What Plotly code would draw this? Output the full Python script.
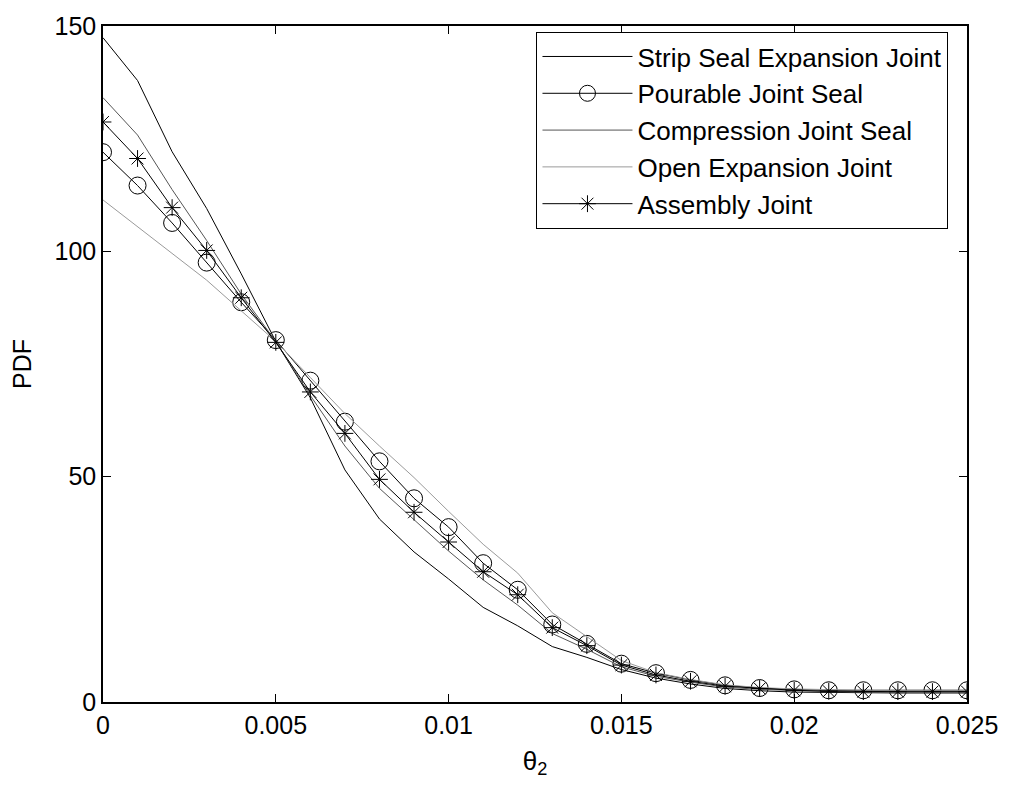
import plotly.graph_objects as go

# Rotation values (theta_2) sampled every 0.001
theta2 = [round(i * 0.001, 3) for i in range(26)]

strip_seal = [147.4, 137.9, 122.1, 109.5, 95.0, 80.0, 67.5, 51.5, 40.6, 33.3,
              27.3, 21.0, 16.9, 12.3, 9.9, 7.2, 5.3, 4.0, 3.0, 2.5,
              2.2, 2.1, 2.0, 2.0, 2.0, 2.0]
pourable = [122.0, 114.6, 106.3, 97.5, 88.7, 80.3, 71.3, 62.2, 53.4, 45.2,
            38.8, 30.8, 24.9, 17.2, 12.9, 8.5, 6.4, 4.9, 3.7, 3.1,
            2.8, 2.6, 2.6, 2.6, 2.6, 2.6]
compression = [134.1, 125.8, 113.7, 102.4, 90.5, 80.0, 68.0, 56.8, 47.4, 40.5,
               33.5, 27.1, 21.5, 15.2, 11.7, 7.8, 5.7, 4.4, 3.3, 2.8,
               2.5, 2.3, 2.2, 2.2, 2.2, 2.2]
open_joint = [111.4, 105.5, 99.5, 93.6, 86.8, 80.0, 72.0, 64.0, 56.8, 49.8,
              42.3, 35.0, 28.6, 19.8, 14.5, 9.2, 6.5, 5.0, 3.8, 3.2,
              2.9, 2.7, 2.6, 2.6, 2.6, 2.6]
assembly = [128.7, 120.6, 109.7, 100.2, 89.7, 79.8, 68.8, 59.6, 49.4, 42.1,
            35.5, 28.9, 23.8, 16.5, 12.5, 8.2, 6.0, 4.6, 3.5, 3.0,
            2.6, 2.4, 2.3, 2.3, 2.3, 2.3]

series_names = ["Strip Seal Expansion Joint", "Pourable Joint Seal",
                "Compression Joint Seal", "Open Expansion Joint", "Assembly Joint"]

FONT = "Liberation Sans, Arial, sans-serif"

fig = go.Figure()
fig.add_trace(go.Scatter(x=theta2, y=strip_seal, name=series_names[0], mode="lines",
                         line=dict(color="black", width=1), legendgroup="a"))
fig.add_trace(go.Scatter(x=theta2, y=pourable, name=series_names[1], mode="lines+markers",
                         line=dict(color="black", width=1),
                         marker=dict(symbol="circle-open", size=17, color="black",
                                     line=dict(width=1, color="black")),
                         legendgroup="b"))
fig.add_trace(go.Scatter(x=theta2, y=compression, name=series_names[2], mode="lines",
                         line=dict(color="#555555", width=1), legendgroup="c"))
fig.add_trace(go.Scatter(x=theta2, y=open_joint, name=series_names[3], mode="lines",
                         line=dict(color="#9a9a9a", width=1), legendgroup="d"))
fig.add_trace(go.Scatter(x=theta2, y=assembly, name=series_names[4], mode="lines+markers",
                         line=dict(color="black", width=1),
                         marker=dict(symbol="asterisk-open", size=14, color="black",
                                     line=dict(width=1, color="black")),
                         legendgroup="e"))

axis_common = dict(
    showline=True, linecolor="black", linewidth=1.5, mirror="ticks",
    ticks="inside", ticklen=8, tickcolor="black", tickwidth=1,
    showgrid=False, zeroline=False,
    tickfont=dict(family=FONT, size=25, color="black"),
)

fig.update_layout(
    width=1010, height=789,
    margin=dict(l=103, r=38, t=16, b=87),
    paper_bgcolor="white", plot_bgcolor="white",
    font=dict(family=FONT, size=25, color="black"),
    xaxis=dict(range=[0, 0.025], tickvals=[0, 0.005, 0.01, 0.015, 0.02, 0.025],
               ticktext=["0", "0.005", "0.01", "0.015", "0.02", "0.025"],
               title=dict(text="θ<sub>2</sub>", font=dict(family=FONT, size=26), standoff=14),
               **axis_common),
    yaxis=dict(range=[0, 150], tickvals=[0, 50, 100, 150],
               title=dict(text="PDF", font=dict(family=FONT, size=25), standoff=16),
               **axis_common),
    legend=dict(x=0.5017, y=0.991, xanchor="left", yanchor="top",
                bgcolor="white", bordercolor="black", borderwidth=1,
                font=dict(family=FONT, size=26, color="black"),
                tracegroupgap=0, itemwidth=90),
    showlegend=True,
)

fig.write_html("out.html")
